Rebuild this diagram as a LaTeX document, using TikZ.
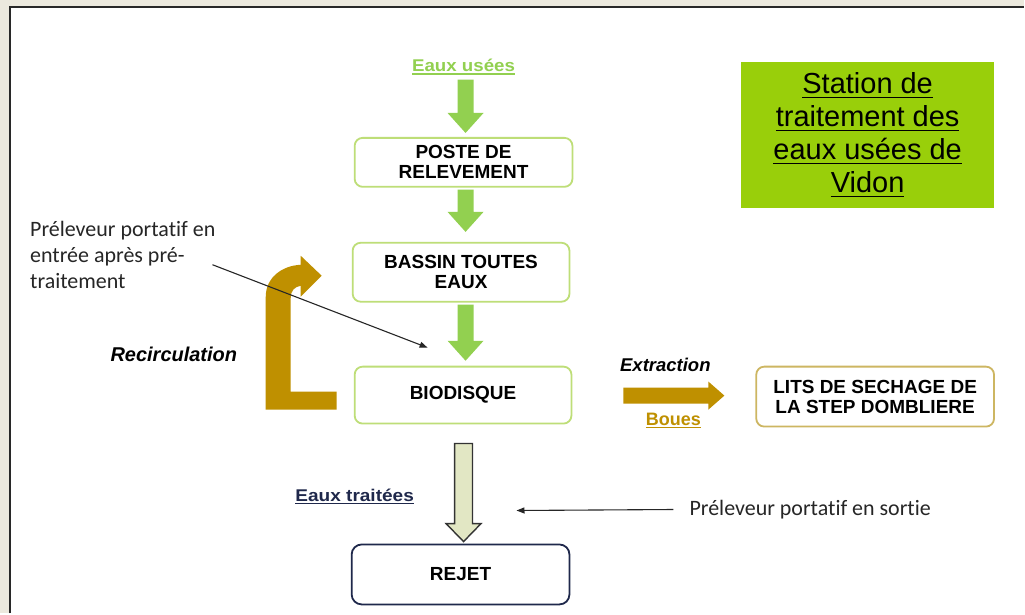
\documentclass[tikz,border=0pt]{standalone}
\usepackage{fontspec}
\setmainfont{Liberation Sans}
\newfontfamily\calfont[Ligatures=NoCommon]{Carlito}
\usetikzlibrary{arrows.meta,calc}

\definecolor{frameBg}{RGB}{236,233,222}
\definecolor{frameDark}{RGB}{40,40,40}
\definecolor{greenArrow}{RGB}{146,208,80}
\definecolor{boxGreen}{RGB}{190,222,120}
\definecolor{titleGreen}{RGB}{153,207,10}
\definecolor{goldDark}{RGB}{191,144,0}
\definecolor{goldLight}{RGB}{205,182,98}
\definecolor{navy}{RGB}{31,40,75}
\definecolor{paleFill}{RGB}{226,231,196}

% underline with a chosen rule thickness
\newcommand{\myul}[2][1.4pt]{\leavevmode\setbox0\hbox{#2}\rlap{\rule[-0.16em]{\wd0}{#1}}\box0}

% vertical block arrow: style, start, tip, shaft half width, head half width, head length
\newcommand{\vblockarrow}[6]{%
  \path[#1] let \p1=(#2), \p2=(#3) in
    (\x1-#4,\y1) -- (\x1+#4,\y1) -- (\x1+#4,\y2+#6) -- (\x1+#5,\y2+#6)
    -- (\x1,\y2) -- (\x1-#5,\y2+#6) -- (\x1-#4,\y2+#6) -- cycle;}
% horizontal block arrow pointing right
\newcommand{\hblockarrow}[6]{%
  \path[#1] let \p1=(#2), \p2=(#3) in
    (\x1,\y1+#4) -- (\x2-#6,\y1+#4) -- (\x2-#6,\y1+#5) -- (\x2,\y1)
    -- (\x2-#6,\y1-#5) -- (\x2-#6,\y1-#4) -- (\x1,\y1-#4) -- cycle;}

\tikzset{
  stagebox/.style={draw=boxGreen, line width=1.8pt, rounded corners=8pt, fill=white,
    align=center, inner sep=0pt, font=\fontsize{19}{20}\selectfont\bfseries},
  sludgebox/.style={stagebox, draw=goldLight},
  outbox/.style={stagebox, draw=navy, rounded corners=10pt},
  titlebox/.style={fill=titleGreen, align=center, inner sep=0pt,
    font=\fontsize{29}{33}\selectfont},
  note/.style={inner sep=0pt, align=left, font=\calfont\fontsize{22}{26}\selectfont, text=black!85},
  flowlabel/.style={inner sep=0pt, font=\fontsize{17}{17}\selectfont\bfseries},
  tag/.style={inner sep=0pt, font=\fontsize{20}{20}\selectfont\bfseries\itshape},
  greenflow/.style={fill=greenArrow},
  goldflow/.style={fill=goldDark},
  treatedflow/.style={fill=paleFill, draw=black!80, line width=1.4pt, line join=miter},
  pointer/.style={draw=black!85, line width=1.1pt, -{Triangle[length=8pt,width=6pt]}},
}

\begin{document}
\begin{tikzpicture}[x=1pt,y=-1pt]
  % page frame
  \fill[frameBg] (0,0) rectangle (1025,614);
  \fill[white] (10,7) rectangle (1025,614);
  \draw[frameDark, line width=2pt] (10,614) -- (10,7) -- (1025,7);

  % process stages
  \node[stagebox, minimum width=218pt, minimum height=49pt] (poste) at (464,162.5) {POSTE DE\\RELEVEMENT};
  \node[stagebox, minimum width=217pt, minimum height=59pt] (bassin) at (461.5,272.5) {BASSIN TOUTES\\EAUX};
  \node[stagebox, minimum width=217pt, minimum height=57pt] (bio) at (463.5,395.5) {BIODISQUE};
  \node[sludgebox, minimum width=238pt, minimum height=60pt] (lits) at (876,397) {LITS DE SECHAGE DE\\LA STEP DOMBLIERE};
  \node[outbox, minimum width=218pt, minimum height=60pt] (rejet) at (461,575) {REJET};

  % title
  \node[titlebox, minimum width=253pt, minimum height=146pt] (title) at (868.5,135)
    {\myul{Station de}\\\myul{traitement des}\\\myul{eaux usées de}\\\myul{Vidon}};

  % flow labels
  \node[flowlabel, text=greenArrow] (usees) at (464,67) {\scalebox{1.1}[1]{\myul[1.3pt]{Eaux usées}}};
  \node[flowlabel, text=navy] (traitees) at (355,497) {\scalebox{1.12}[1]{\myul[1.3pt]{Eaux traitées}}};
  \node[tag] (recirc) at (174,355) {Recirculation};
  \node[tag, font=\fontsize{18.5}{18.5}\selectfont\bfseries\itshape] (extr) at (666,365) {Extraction};
  \node[flowlabel, text=goldDark, font=\fontsize{18}{18}\selectfont\bfseries] (boues) at (674,421) {\myul[1.3pt]{Boues}};

  % sampling notes
  \node[note, anchor=west] (prelevA) at (30,255) {Préleveur portatif en\\entrée après pré-\\traitement};
  \node[note, anchor=west] (prelevB) at (690,510) {Préleveur portatif en sortie};

  % main water line
  \coordinate (ax) at (466,0);
  \coordinate (tx) at (464,0);
  \vblockarrow{greenflow}{$(usees.south -| ax)+(0,5)$}{$(poste.north -| ax)+(0,-4)$}{8pt}{18pt}{20pt}
  \vblockarrow{greenflow}{$(poste.south -| ax)+(0,2)$}{$(bassin.north -| ax)+(0,-10)$}{8pt}{18pt}{20pt}
  \vblockarrow{greenflow}{$(bassin.south -| ax)+(0,2)$}{$(bio.north -| ax)+(0,-5)$}{8pt}{18pt}{20pt}
  \vblockarrow{treatedflow}{$(bio.south -| tx)+(0,19)$}{$(rejet.north -| tx)+(0,-2)$}{9pt}{17.5pt}{18pt}

  % sludge extraction
  \hblockarrow{goldflow}{$(bio.east)+(51,0.5)$}{$(lits.west |- bio.east)+(-31,0.5)$}{8pt}{14pt}{16pt}

  % recirculation loop from the biodisc back to the basin
  \fill[goldDark] (337,392) -- (291,392) -- (291,298)
    .. controls (291,291) and (295,287) .. (301,286) -- (301,297) -- (322,276)
    -- (301,256) -- (301,265) .. controls (282,266) and (266,278) .. (266,297)
    -- (266,410) -- (337,410) -- cycle;

  % sampling points
  \coordinate (ptA) at (428,348);
  \coordinate (ptB) at (517,511);
  \draw[pointer] ([shift={(-3pt,-10pt)}]prelevA.east) -- (ptA);
  \draw[pointer] ([xshift=-16pt]prelevB.west) -- (ptB);
\end{tikzpicture}
\end{document}
